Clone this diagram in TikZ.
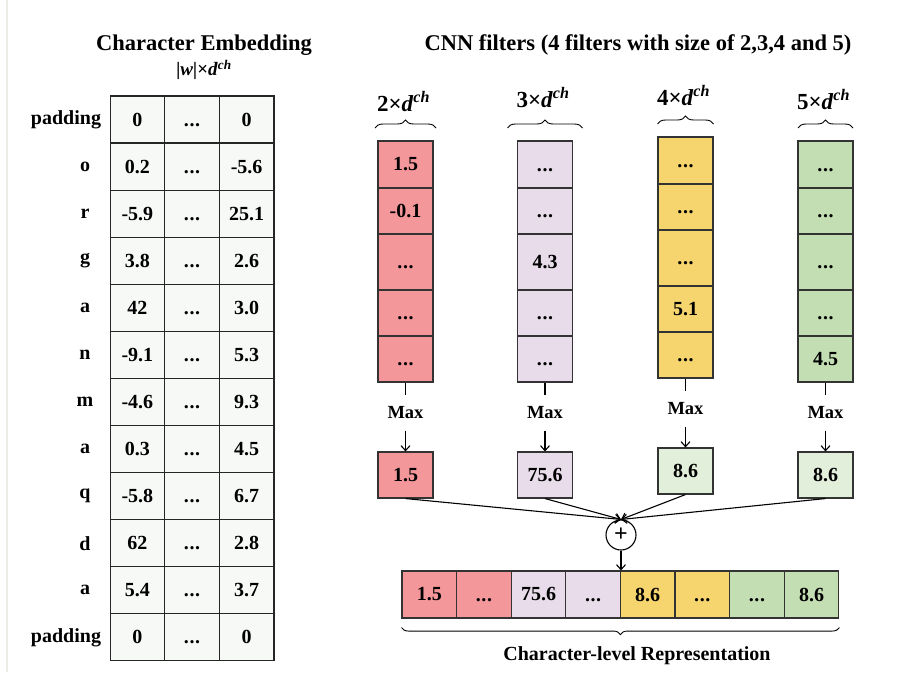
\documentclass[tikz,border=0pt]{standalone}
\usepackage{fontspec}
\setmainfont{Liberation Serif}
\usetikzlibrary{arrows.meta,decorations.pathreplacing}
\definecolor{fred}{HTML}{F4979A}
\definecolor{fpur}{HTML}{E8DCEA}
\definecolor{fyel}{HTML}{F6D46E}
\definecolor{fgrn}{HTML}{C4DEB4}
\definecolor{fltg}{HTML}{E2EFDA}
\definecolor{cellbg}{HTML}{F7F9F7}
\newcommand{\dch}{\textit{d}\textsuperscript{\textit{ch}}}
\newcommand{\elp}{\vphantom{0}.\kern0.6pt.\kern0.6pt.}
\begin{document}
\begin{tikzpicture}[x=1pt,y=-1pt,line width=1.1pt,>={Straight Barb[length=5pt,width=9pt]},
    every node/.style={font=\fontsize{20}{24}\selectfont\bfseries},
    cell/.style={draw=black!85,inner sep=0pt,minimum width=54.7pt,minimum height=47pt,fill=cellbg},
    fbox/.style={draw=black!80,inner sep=0pt,minimum width=55pt},
    title/.style={font=\fontsize{22.5}{26}\selectfont\bfseries},
    brace/.style={decorate,line width=0.9pt,decoration={brace,amplitude=8pt}}]
    \useasboundingbox (0,0) rectangle (902,677);
    \draw[color={rgb,255:red,236;green,238;blue,230}] (7,0) -- (7,672);
    % character embedding table
    \node[title] (embtitle) at (204,45) {Character Embedding};
    \node[font=\fontsize{19}{22}\selectfont\bfseries] (embsize) at (204,70) {\textit{|w|}×\dch};
    \foreach \i/\lab/\lx/\a/\b in {0/padding/66/0/0, 1/o/85/0.2/-5.6, 2/r/85/-5.9/25.1, 3/g/85/3.8/2.6,
        4/a/85/42/3.0, 5/n/85/-9.1/5.3, 6/m/85/-4.6/9.3, 7/a/85/0.3/4.5, 8/q/85/-5.8/6.7,
        9/d/85/62/2.8, 10/a/85/5.4/3.7, 11/padding/66/0/0} {
        \node (lab\i) at (\lx,{96+47.08*(\i+0.5)}) {\lab};
        \node[cell] (e\i-a) at (137.4,{96+47.08*(\i+0.5)}) {\a};
        \node[cell] (e\i-b) at (192,{96+47.08*(\i+0.5)}) {\elp};
        \node[cell] (e\i-c) at (246.6,{96+47.08*(\i+0.5)}) {\b};
    }
    % CNN filters
    \node[title] (cnntitle) at (638,45) {CNN filters (4 filters with size of 2,3,4 and 5)};
    \foreach \c/\n/\cx/\dy/\col/\mcol/\bw/\ly/\va/\vb/\vc/\vd/\ve/\m in {
        r/2/405.5/0/fred/fred/30.5/102/1.5/-0.1/\elp/\elp/\elp/1.5,
        p/3/545/0/fpur/fpur/37.5/98/\elp/\elp/4.3/\elp/\elp/75.6,
        y/4/685.5/-4/fyel/fltg/28/96/\elp/\elp/\elp/5.1/\elp/8.6,
        g/5/825.5/0/fgrn/fltg/27.5/100/\elp/\elp/\elp/\elp/4.5/8.6} {
        \foreach \r/\ya/\yb/\v in {1/141/188/\va, 2/188/234/\vb, 3/234/290/\vc, 4/290/336/\vd, 5/336/382/\ve}
            \node[fbox,fill=\col,minimum height={\yb-\ya}] (f\c\r) at (\cx,{(\ya+\yb)/2+\dy}) {\v};
        \draw[brace] (\cx-\bw,128+\dy) -- (\cx+\bw,128+\dy);
        \node[font=\fontsize{23}{26}\selectfont\bfseries] (sz\c) at ({\cx-2},\ly) {\n×\dch};
        \node[inner sep=0pt,minimum height=34pt,font=\fontsize{18.5}{22}\selectfont\bfseries] (max\c) at (\cx,413+\dy) {Max};
        \node[fbox,fill=\mcol,minimum height=46pt] (mx\c) at (\cx,475+\dy) {\m};
        \draw (f\c5) -- (max\c);
        \draw[->] (max\c) -- (mx\c);
    }
    % concatenation
    \node[draw,circle,inner sep=0pt,minimum size=30pt,font=\fontsize{24}{26}\selectfont\bfseries] (plus) at (621,535) {+};
    \foreach \c in {r,p,y,g}
        \draw[->] (mx\c.south) -- (plus.north);
    \foreach \i/\v/\col in {1/1.5/fred, 2/\elp/fred, 3/75.6/fpur, 4/\elp/fpur, 5/8.6/fyel, 6/\elp/fyel, 7/\elp/fgrn, 8/8.6/fgrn}
        \node[fbox,fill=\col,minimum width=54.6pt,minimum height=47pt] (o\i) at ({402+54.6*(\i-0.5)},594.5) {\v};
    \draw[->] (plus) -- (plus |- o4.north);
    \draw[brace,decoration={mirror,amplitude=7pt}] ([yshift=-9pt]o1.south west) -- ([yshift=-9pt]o8.south east);
    \node (rep) at (637,656) {Character-level Representation};
\end{tikzpicture}
\end{document}
